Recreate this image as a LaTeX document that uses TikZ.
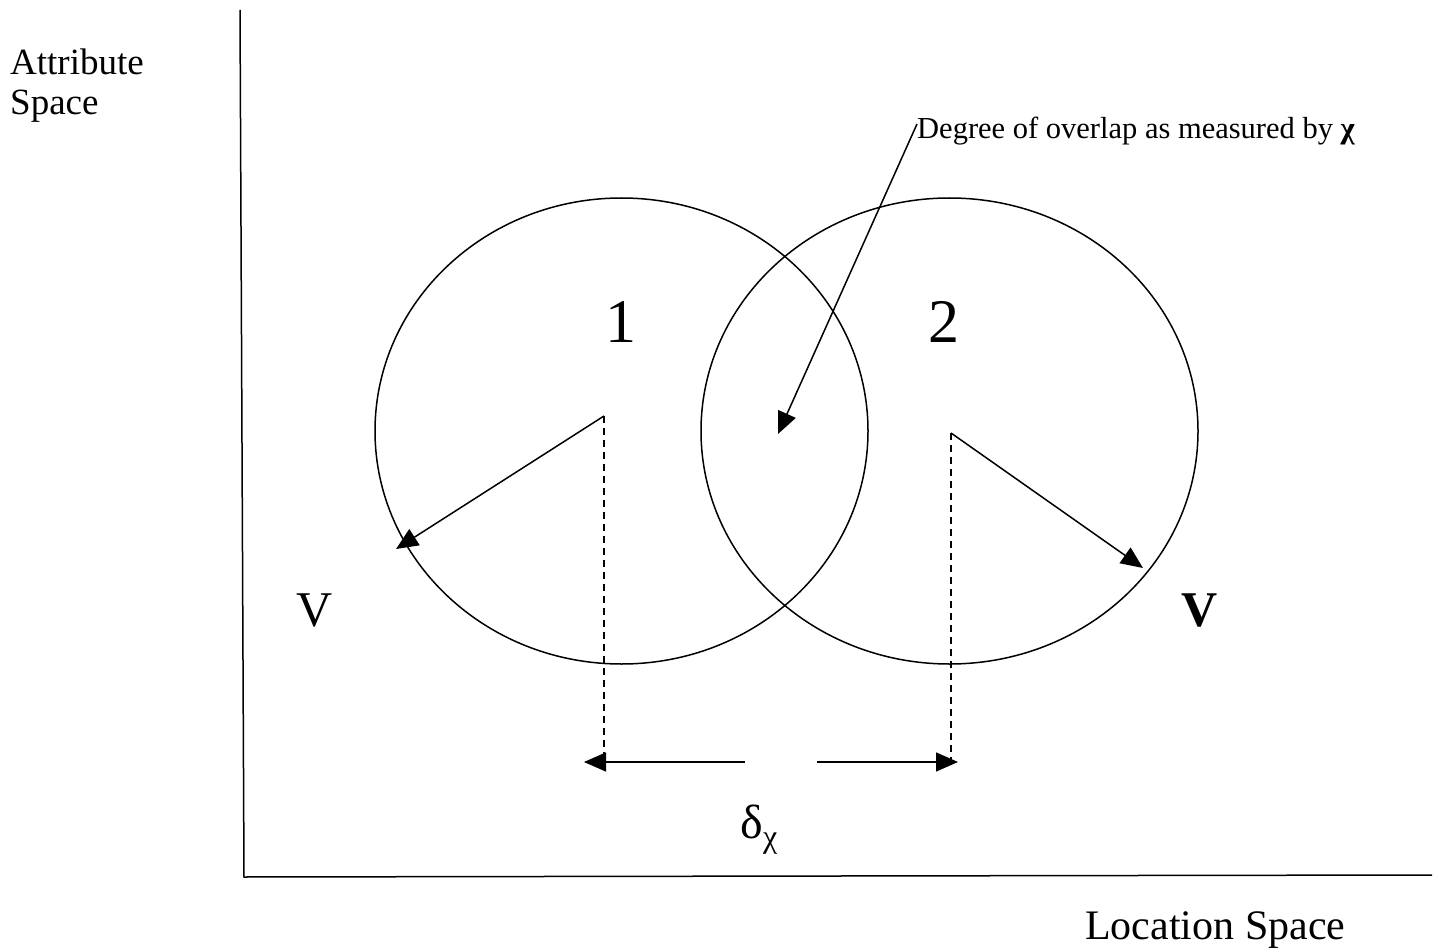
\documentclass[tikz,border=0pt]{standalone}
\usepackage{fontspec}
\setmainfont{Liberation Serif}
\usetikzlibrary{arrows.meta,shapes.geometric}
\tikzset{
  ln/.style={line width=1.5pt, line cap=butt},
  arr/.style={ln, -{Triangle[length=22pt,width=19pt]}},
  dsh/.style={line width=1.5pt, dash pattern=on 7pt off 5pt},
  lbl/.style={inner sep=0pt, font=\fontsize{37}{42}\selectfont},
  circ/.style={ln, draw, ellipse, inner sep=0pt},
}
\begin{document}
\begin{tikzpicture}[x=1pt,y=-1pt]
\useasboundingbox (0,0) rectangle (1452,952);
% axes
\coordinate (ytop) at (240,10);
\coordinate (orig) at (244,877);
\coordinate (xend) at (1432,875);
\draw[ln] (ytop) -- (orig) -- (xend);
% circles
\node[circ, minimum width=493pt, minimum height=466pt] (c1) at (621.5,431) {};
\node[circ, minimum width=497pt, minimum height=466pt] (c2) at (949.5,431) {};
% labels
\node[lbl, anchor=west, align=left, font=\fontsize{37}{40}\selectfont] (attr) at (10,86) {Attribute\\Space};
\node[lbl, anchor=west, font=\fontsize{42}{46}\selectfont] (loc) at (1085,930) {Location Space};
\node[lbl, font=\fontsize{62}{70}\selectfont] (one) at (621,322) {1};
\node[lbl, font=\fontsize{62}{70}\selectfont] (two) at (944,322) {2};
\node[lbl, font=\fontsize{50}{56}\selectfont] (vl) at (315,611) {V};
\node[lbl, font=\fontsize{50}{56}\selectfont\bfseries] (vr) at (1200,611) {V};
\node[lbl, anchor=west, font=\fontsize{30.5}{34}\selectfont] (deg) at (917,131) {Degree of overlap as measured by \textbf{χ}};
\node[lbl, anchor=base, font=\fontsize{48}{54}\selectfont] (delta) at (759,838) {δ\raisebox{-0.2em}{\fontsize{32}{36}\selectfont χ}};
% radius arrows
\coordinate (p1) at (604,416);
\coordinate (q1) at (396,549);
\coordinate (p2) at (951,433);
\coordinate (q2) at (1143,568);
\draw[arr] (p1) -- (q1);
\draw[arr] (p2) -- (q2);
% dashed
\coordinate (d1) at (604,762);
\coordinate (d2) at (951,762);
\draw[dsh] (p1) -- (d1);
\draw[dsh] (p2) -- (d2);
% distance arrows
\coordinate (m1) at (745,762);
\coordinate (m2) at (817,762);
\coordinate (e1) at (584,762);
\coordinate (e2) at (958,762);
\draw[arr] (m1) -- (e1);
\draw[arr] (m2) -- (e2);
% overlap pointer
\coordinate (ps) at (917,124);
\coordinate (pe) at (778,434);
\draw[arr] (ps) -- (pe);
\end{tikzpicture}
\end{document}
